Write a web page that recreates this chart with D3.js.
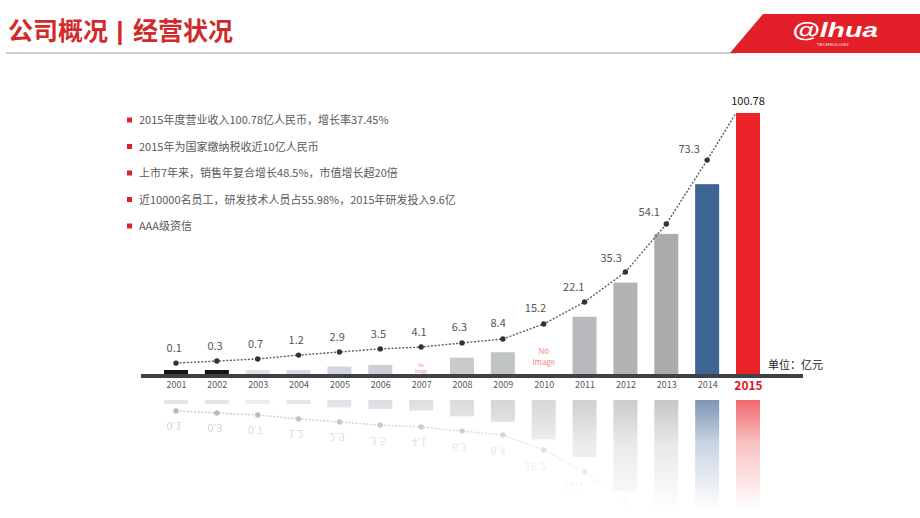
<!DOCTYPE html>
<html><head><meta charset="utf-8">
<script src="https://cdn.jsdelivr.net/npm/d3@7/dist/d3.min.js"></script>
<style>html,body{margin:0;padding:0;background:#fff;}svg{display:block;}</style>
</head><body>
<svg id="c" width="920" height="518"></svg>
<script>
// ---------- data ----------
const years = ["2001","2002","2003","2004","2005","2006","2007","2008","2009","2010","2011","2012","2013","2014","2015"];
const revenue = [0.1,0.3,0.7,1.2,2.9,3.5,4.1,6.3,8.4,15.2,22.1,35.3,54.1,73.3,100.78];
// dotted trend curve heights (same units as revenue)
const trendCurve = [4.2,5.0,5.8,7.3,8.5,9.7,10.4,12.0,13.5,19.3,27.8,39.4,57.9,82.6,100.78];
const missingImageYears = ["2007","2010"];
const bullets = [
  "2015年度营业收入100.78亿人民币，增长率37.45%",
  "2015年为国家缴纳税收近10亿人民币",
  "上市7年来，销售年复合增长48.5%，市值增长超20倍",
  "近10000名员工，研发技术人员占55.98%，2015年研发投入9.6亿",
  "AAA级资信"
];
const titleLeft = "公司概况";
const titleSep = "|";
const titleRight = "经营状况";
const unitText = "单位：亿元";
const logoText = "@lhua";
const logoSub = "TECHNOLOGY";

// ---------- style ----------
const barColors = ["#141414","#141414","#e4dfe8","#d9d9e5","#d3d6df","#cdcdd6","#cfcfd4","#c9cbcb","#c0c3c4","#c4c4c8","#b9b9bd","#b2b1b4","#acaaad","#3f6594","#ec2229"];
const FONT = "'Noto Sans CJK SC','Noto Sans',sans-serif";

const rows = years.map((y,i)=>({year:y, v:revenue[i], t:trendCurve[i], color:barColors[i], missing:missingImageYears.includes(y)}));

const svg = d3.select("#c");
const defs = svg.append("defs");

// ---------- header ----------
const hd = svg.append("g").attr("font-family",FONT).attr("font-weight",700).attr("font-size",25).attr("fill","#d22a2c");
hd.append("text").attr("x",8).attr("y",40).text(titleLeft);
hd.append("text").attr("x",120).attr("y",40).attr("text-anchor","middle")
  .attr("font-family","'Liberation Sans',Arial,sans-serif").attr("font-size",26).text(titleSep);
hd.append("text").attr("x",133).attr("y",40).text(titleRight);
svg.append("rect").attr("x",6).attr("y",52).attr("width",730).attr("height",2).attr("fill","#cfcfcf");
svg.append("polygon").attr("points","763,14 920,14 920,53 730,53").attr("fill","#e3202a");
svg.append("text").attr("x",792).attr("y",37).attr("font-family","'Liberation Sans',Arial,sans-serif")
  .attr("font-weight",700).attr("font-style","italic").attr("font-size",21).attr("fill","#fff")
  .attr("textLength",86).attr("lengthAdjust","spacingAndGlyphs").text(logoText);
svg.append("text").attr("x",833).attr("y",46).attr("text-anchor","middle").attr("font-family","'Liberation Sans',Arial,sans-serif")
  .attr("font-size",4.2).attr("fill","#fff").attr("letter-spacing",0.3).text(logoSub);

// ---------- bullets ----------
const bl = svg.append("g");
bullets.forEach((t,i)=>{
  const cy = 120 + i*26.5;
  bl.append("rect").attr("x",127).attr("y",cy-2.5).attr("width",5).attr("height",5).attr("fill","#e0202a");
  bl.append("text").attr("x",139).attr("y",cy+4).attr("font-family",FONT).attr("font-size",11)
    .attr("fill","#595959").text(t);
});

// ---------- scales ----------
const x = d3.scalePoint().domain(years).range([176,748]);
const bw = 24;
const y = d3.scaleLinear().domain([0,100.78]).range([374,113]);
const base = y(0);
const last = rows.length-1;
const MIRROR = 387;

const px = (d,i)=> i===last ? x(d.year)-bw/2 : x(d.year);
const linePts = rows.map((d,i)=>[px(d,i), y(d.t)]);

function labelPos(i){
  if(i===last) return [x(rows[i].year), y(rows[i].v)-12];
  const a = linePts[Math.max(0,i-1)], b = linePts[Math.min(last,i+1)];
  let ux=b[0]-a[0], uy=b[1]-a[1]; const L=Math.hypot(ux,uy); ux/=L; uy/=L;
  const nx=uy, ny=-ux;
  const dist = 15 + 6*Math.abs(nx);
  return [linePts[i][0]+nx*dist - 1, linePts[i][1]+ny*dist];
}

function drawChart(g, reflection){
  g.selectAll("rect.bar").data(rows.filter(d=>reflection || !d.missing)).join("rect")
    .attr("class","bar")
    .attr("x",d=>x(d.year)-bw/2)
    .attr("width",bw)
    .attr("y",d=>Math.min(y(d.v), base-4))
    .attr("height",d=>Math.max(base-y(d.v),4))
    .attr("fill",d=> reflection && d.color==="#141414" ? "#ddd6de" : d.color);
  const lg = g.append("g").attr("opacity", reflection?0.6:1);
  lg.append("path").datum(linePts).attr("d",d3.line())
    .attr("fill","none").attr("stroke","#5a5e63").attr("stroke-width",1.4).attr("stroke-dasharray","2,1.6");
  lg.selectAll("circle").data(linePts.slice(0,last)).join("circle")
    .attr("cx",d=>d[0]).attr("cy",d=>d[1]).attr("r",2.7).attr("fill","#2e343c");
  const labelled = rows.map((d,i)=>({d,i,p:labelPos(i)}))
    .filter(o=> !reflection || (2*MIRROR - o.p[1]) < 498);
  lg.selectAll("text.val").data(labelled).join("text").attr("class","val")
    .attr("x",o=>o.p[0]).attr("y",o=>o.p[1]).attr("dy","0.36em")
    .attr("text-anchor","middle").attr("font-family",FONT).attr("font-size",11)
    .attr("fill",o=> o.i===last ? "#1a1a1a" : "#555")
    .text(o=>o.d.v);
}

// reflection (mirrored, fading)
const grad = defs.append("linearGradient").attr("id","fade").attr("gradientUnits","userSpaceOnUse")
  .attr("x1",0).attr("y1",398).attr("x2",0).attr("y2",510);
grad.append("stop").attr("offset",0).attr("stop-color","#fff").attr("stop-opacity",0.7);
grad.append("stop").attr("offset",0.4).attr("stop-color","#fff").attr("stop-opacity",0.28);
grad.append("stop").attr("offset",1).attr("stop-color","#fff").attr("stop-opacity",0);
const mask = defs.append("mask").attr("id","m").attr("maskUnits","userSpaceOnUse")
  .attr("x",0).attr("y",0).attr("width",920).attr("height",518);
mask.append("rect").attr("x",0).attr("y",390).attr("width",920).attr("height",128).attr("fill","url(#fade)");
const refl = svg.append("g").attr("mask","url(#m)")
  .append("g").attr("transform",`translate(0,${2*MIRROR}) scale(1,-1)`);
drawChart(refl, true);

// main chart
const main = svg.append("g");
drawChart(main, false);

// "No Image" placeholders for missing bars
rows.filter(d=>d.missing).forEach(d=>{
  const h = base - y(d.v);
  const fs = Math.min(h*0.4, 8);
  const cy = (y(d.v)+base)/2 + (fs>6?2.5:0);
  const t = main.append("text").attr("text-anchor","middle").attr("font-family",FONT)
    .attr("font-size",fs).attr("fill","#f28a8a");
  t.append("tspan").attr("x",x(d.year)).attr("y",cy-fs*0.3).text("No");
  t.append("tspan").attr("x",x(d.year)).attr("y",cy+fs*1.05).text("Image");
});

// axis band
main.append("rect").attr("x",141).attr("y",base).attr("width",662).attr("height",4).attr("fill","#3e4246");

// year labels through axis
const ax = main.append("g").attr("transform",`translate(0,${base+4})`)
  .call(d3.axisBottom(x).tickSize(0).tickPadding(4));
ax.select(".domain").remove();
ax.selectAll("text").attr("font-family",FONT).attr("font-size",9).attr("fill","#595959");
ax.selectAll(".tick").filter(d=>d===years[last]).select("text")
  .attr("font-size",12).attr("font-weight",700).attr("fill","#e0141c").attr("dy","0.68em");

// unit label
main.append("text").attr("x",768).attr("y",369).attr("font-family",FONT).attr("font-size",11)
  .attr("fill","#222").text(unitText);
</script>
</body></html>
